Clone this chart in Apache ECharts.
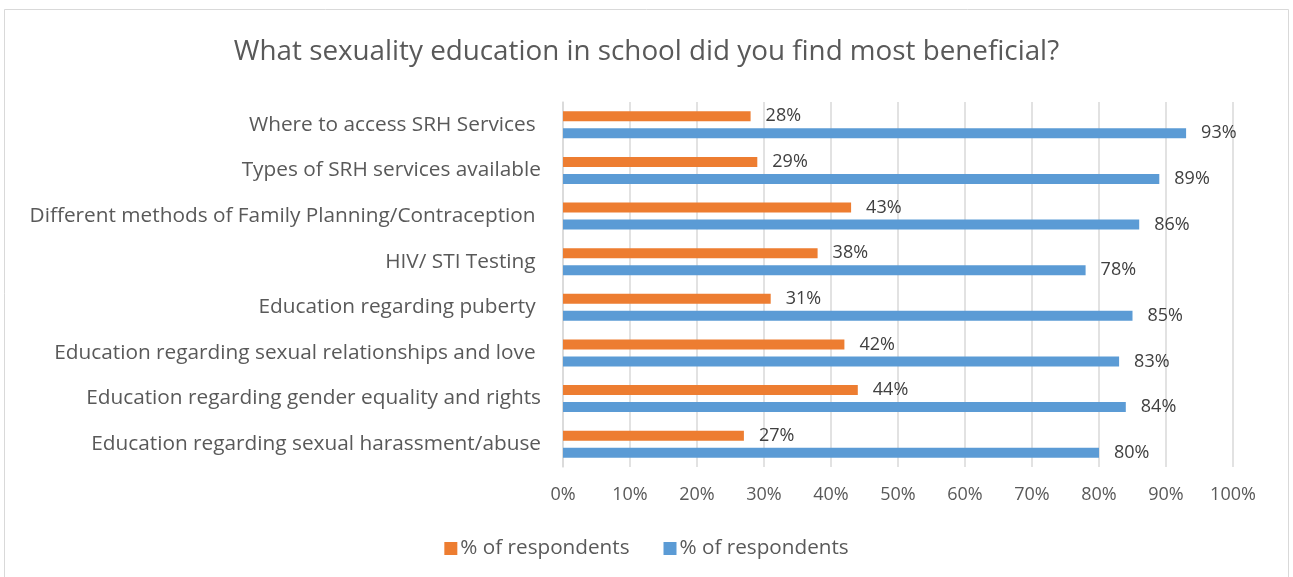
<!DOCTYPE html>
<html>
<head>
<meta charset="utf-8">
<script src="https://cdn.jsdelivr.net/npm/echarts@6/dist/echarts.min.js"></script>
<style>
  html, body { margin: 0; padding: 0; background: #fff; }
  #chart { width: 1293px; height: 577px; }
</style>
</head>
<body>
<div id="chart"></div>
<script>
// Topics, listed top to bottom
const categories = [
  'Where to access SRH Services ',
  'Types of SRH services available',
  'Different methods of Family Planning/Contraception ',
  'HIV/ STI Testing ',
  'Education regarding puberty ',
  'Education regarding sexual relationships and love ',
  'Education regarding gender equality and rights',
  'Education regarding sexual harassment/abuse'
];
// Share of respondents (%) for each of the two groups
const orangeValues = [28, 29, 43, 38, 31, 42, 44, 27];
const blueValues = [93, 89, 86, 78, 85, 83, 84, 80];
const seriesNames = ['% of respondents', '% of respondents'];
const xTicks = [0, 10, 20, 30, 40, 50, 60, 70, 80, 90, 100];

const FONT = '"Open Sans", "Noto Sans", sans-serif';
const chart = echarts.init(document.getElementById('chart'));

const labelStyle = {
  show: true,
  position: 'right',
  distance: 15,
  formatter: p => p.value + '%',
  color: '#404040',
  fontSize: 18,
  fontFamily: FONT
};

chart.setOption({
  backgroundColor: '#fff',
  animation: false,
  title: {
    text: 'What sexuality education in school did you find most beneficial?',
    left: 'center',
    top: 33,
    textStyle: { color: '#595959', fontSize: 27.8, fontWeight: 'normal', fontFamily: FONT }
  },
  graphic: [{
    type: 'rect',
    shape: { x: 4.5, y: 9.5, width: 1284, height: 580 },
    style: { fill: 'none', stroke: '#d9d9d9', lineWidth: 1 },
    silent: true
  }],
  legend: {
    bottom: 13,
    left: 'center',
    itemWidth: 13,
    itemHeight: 13,
    itemGap: 34,
    icon: 'rect',
    textStyle: { color: '#595959', fontSize: 20.7, fontFamily: FONT, padding: [0, 0, 0, -2] },
    data: [
      { name: 'orange', itemStyle: { color: '#ed7d31' } },
      { name: 'blue', itemStyle: { color: '#5b9bd5' } }
    ],
    formatter: name => name === 'orange' ? seriesNames[0] : seriesNames[1]
  },
  grid: { left: 563, right: 60, top: 102, bottom: 110 },
  xAxis: {
    type: 'value',
    min: 0,
    max: 100,
    interval: 10,
    axisLabel: {
      formatter: v => xTicks.includes(v) ? v + '%' : '',
      color: '#595959',
      fontSize: 18,
      fontFamily: FONT,
      margin: 19
    },
    axisLine: { show: false },
    axisTick: { show: false },
    splitLine: { lineStyle: { color: '#d9d9d9', width: 1.5 } }
  },
  yAxis: {
    type: 'category',
    inverse: true,
    data: categories,
    axisLabel: { color: '#595959', fontSize: 20.8, fontFamily: FONT, margin: 22 },
    axisLine: { show: true, lineStyle: { color: '#d9d9d9', width: 1.5 } },
    axisTick: { show: false }
  },
  series: [
    {
      name: 'orange',
      type: 'bar',
      data: orangeValues,
      barWidth: 10,
      barGap: '70%',
      itemStyle: { color: '#ed7d31' },
      label: labelStyle
    },
    {
      name: 'blue',
      type: 'bar',
      data: blueValues,
      barWidth: 10,
      itemStyle: { color: '#5b9bd5' },
      label: labelStyle
    }
  ]
});
</script>
</body>
</html>
